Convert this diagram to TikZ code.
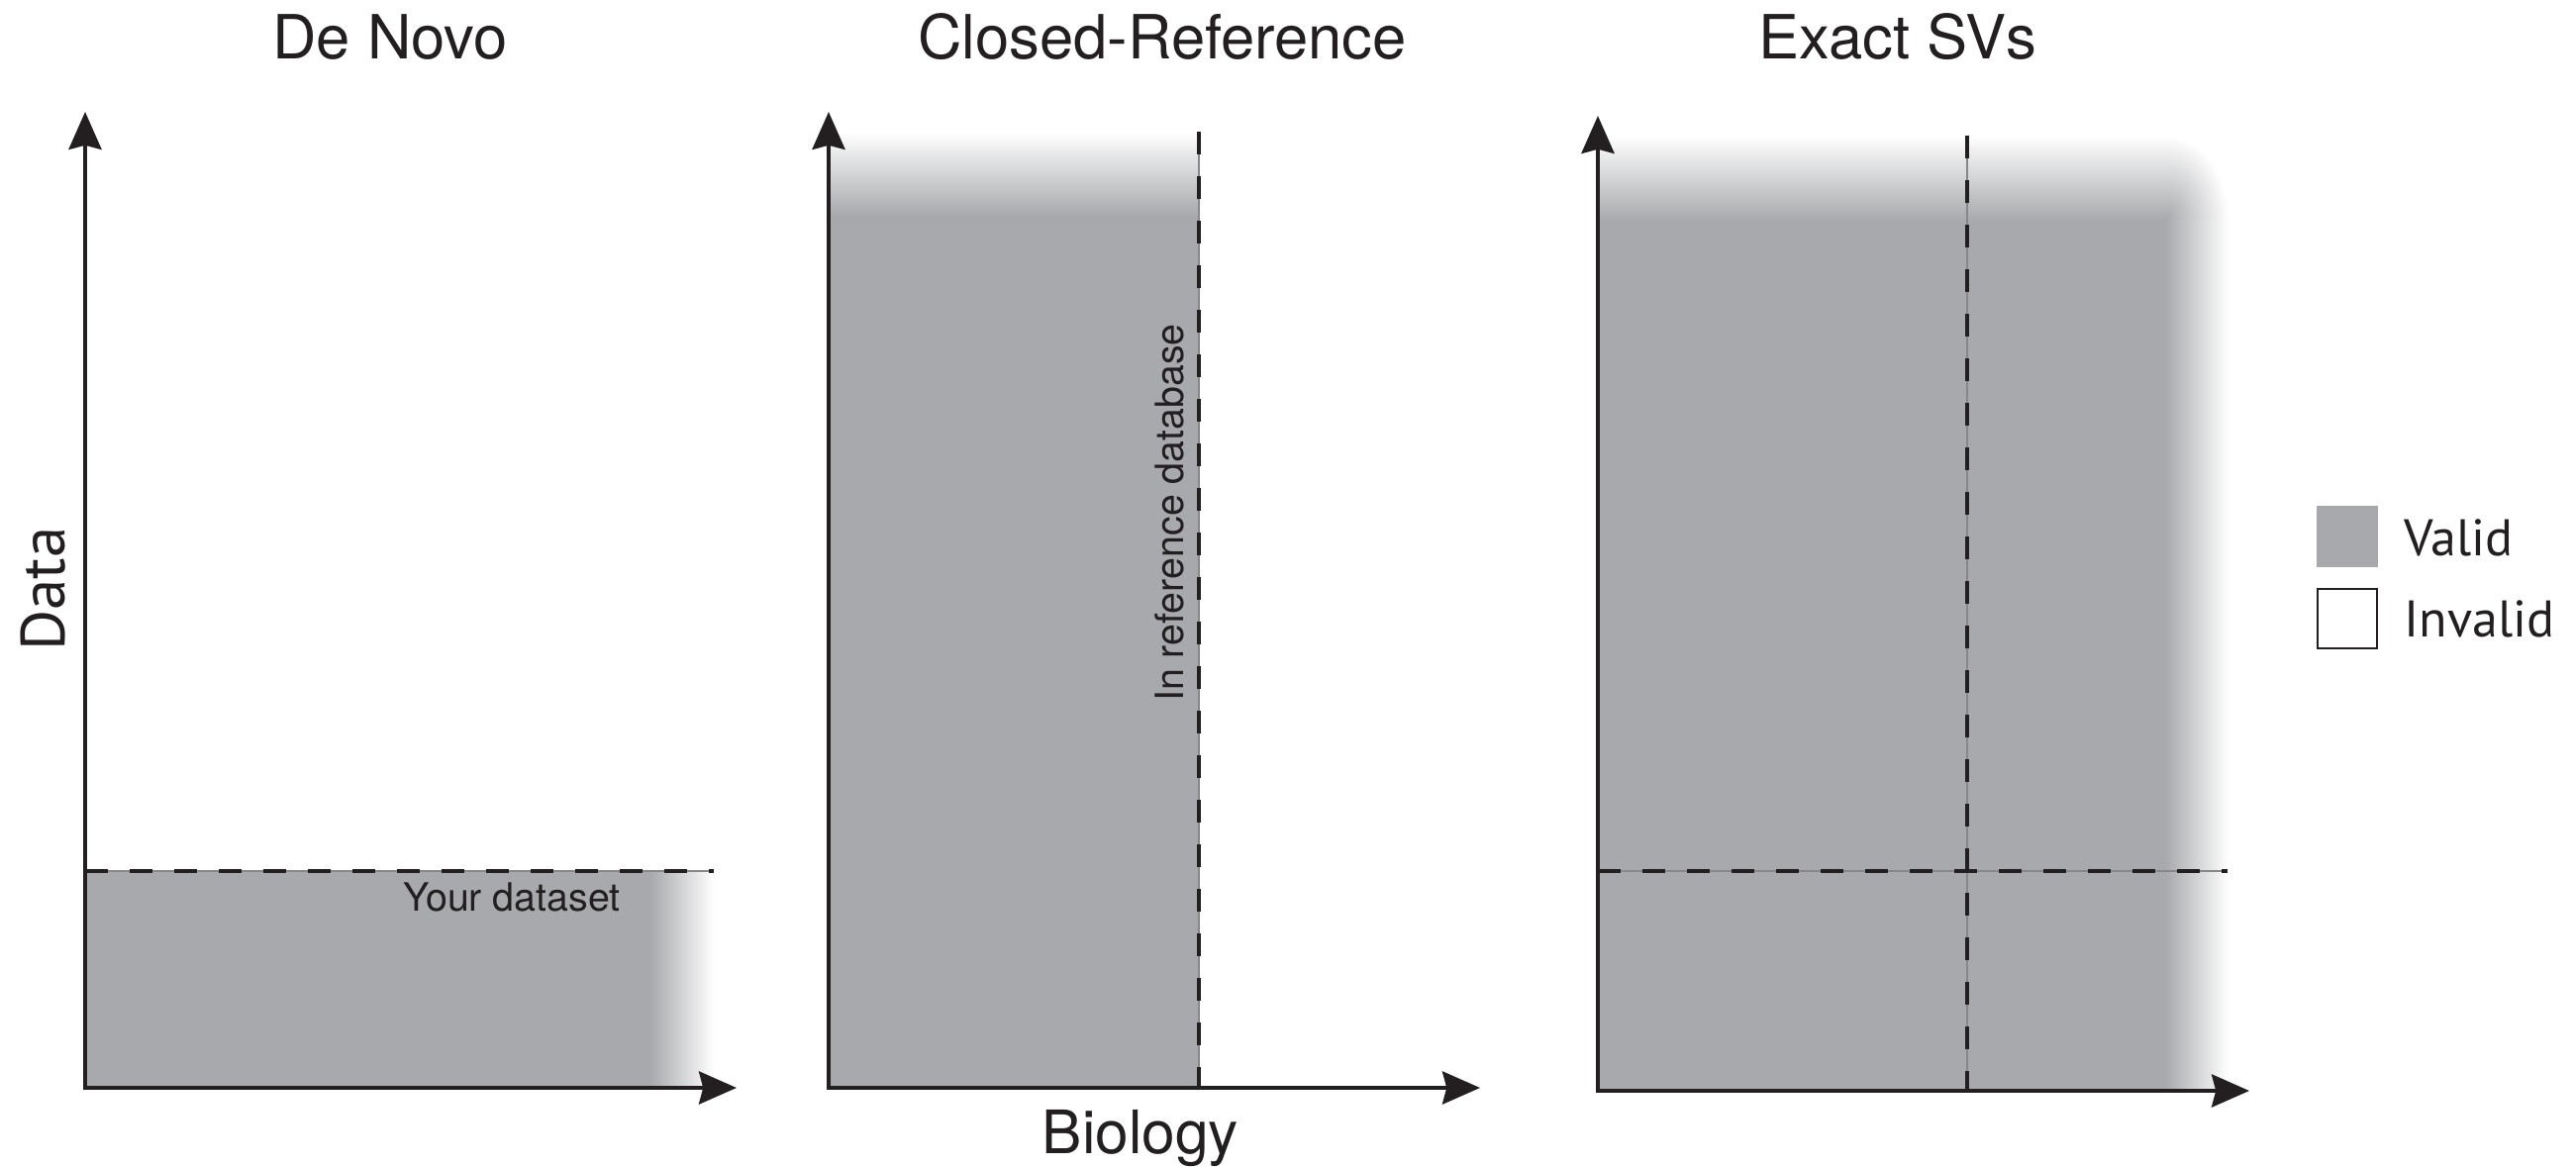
\documentclass[tikz,border=0pt]{standalone}
\usepackage{fontspec}
\setmainfont{TeX Gyre Heros}
\newfontfamily\legfont{PT Sans}
\usetikzlibrary{arrows.meta}
\definecolor{vgray}{RGB}{167,169,172}
\definecolor{ink}{RGB}{35,31,32}
\definecolor{hair}{RGB}{135,136,140}
\begin{document}
\begin{tikzpicture}[x=0.01cm,y=-0.01cm,
  axisline/.style={draw=ink, line width=1.15pt, line join=miter,
    {Stealth[length=10.8pt,width=9.4pt,inset=1.2pt]}-{Stealth[length=10.8pt,width=9.4pt,inset=1.2pt]}},
  dashline/.style={draw=ink, line width=1.4pt, dash pattern=on 6.5pt off 6.3pt},
  hairline/.style={draw=hair, line width=0.3pt},
  titletext/.style={font=\fontsize{17.5}{20}\selectfont, text=ink, anchor=base, inner sep=0pt},
  smalltext/.style={font=\fontsize{11.2}{13}\selectfont, text=ink, anchor=base, inner sep=0pt},
  legtext/.style={font=\legfont\fontsize{14.8}{17}\selectfont, text=ink, anchor=base west, inner sep=0pt},
  legbox/.style={minimum size=0.62cm, inner sep=0pt, outer sep=0pt},
]
\useasboundingbox[fill=white] (0,0) rectangle (2602,1179);

% ---------- Panel 1: De Novo ----------
\fill[vgray] (86,880) rectangle (658,1099);
\shade[left color=vgray, right color=white] (657,880) rectangle (721,1099);
\coordinate (p1o) at (86,1099);
\coordinate (p1y) at (86,113);
\coordinate (p1x) at (744,1099);
\coordinate (d1a) at (86,880);
\coordinate (d1b) at (721,880);
\draw[hairline] (d1a) -- (d1b);
\draw[dashline] (d1a) -- (d1b);
\draw[axisline] (p1y) -- (p1o) -- (p1x);
\node[titletext] (t1) at (394,60) {De Novo};
\node[smalltext] (yd) at (517,920) {Your dataset};
\node[font=\legfont\fontsize{17.9}{20}\selectfont, text=ink, rotate=90, anchor=base, inner sep=0pt] (ylab) at (65,595) {Data};

% ---------- Panel 2: Closed-Reference ----------
\fill[vgray] (837,217) rectangle (1211,1099);
\shade[top color=white, bottom color=vgray] (837,133) rectangle (1211,218);
\coordinate (p2o) at (837,1099);
\coordinate (p2y) at (837,113);
\coordinate (p2x) at (1495,1099);
\coordinate (d2a) at (1211,133);
\coordinate (d2b) at (1211,1099);
\draw[hairline] (d2a) -- (d2b);
\draw[dashline] (d2a) -- (d2b);
\draw[axisline] (p2y) -- (p2o) -- (p2x);
\node[titletext] (t2) at (1174,60) {Closed-Reference};
\node[smalltext, rotate=90] (ref) at (1195,518) {In reference database};
\node[font=\fontsize{17.2}{20}\selectfont, text=ink, anchor=base, inner sep=0pt] (xlab) at (1152,1165) {Biology};

% ---------- Panel 3: Exact SVs ----------
\fill[vgray] (1614,222) rectangle (2188,1102);
\shade[top color=white, bottom color=vgray] (1614,137) rectangle (2188,223);
\shade[left color=vgray, right color=white] (2187,222) rectangle (2251,1102);
\begin{scope}
  \clip (2187,137) rectangle (2251,223);
  \shade[inner color=vgray, outer color=white] (2188,222) ellipse [x radius=63, y radius=85];
\end{scope}
\coordinate (p3o) at (1614,1102);
\coordinate (p3y) at (1614,117);
\coordinate (p3x) at (2272,1102);
\coordinate (d3a) at (1987,137);
\coordinate (d3b) at (1987,1102);
\coordinate (d3c) at (1614,880);
\coordinate (d3d) at (2250,880);
\draw[hairline] (d3a) -- (d3b);
\draw[hairline] (d3c) -- (d3d);
\draw[dashline] (d3a) -- (d3b);
\draw[dashline] (d3c) -- (d3d);
\draw[axisline] (p3y) -- (p3o) -- (p3x);
\node[titletext] (t3) at (1917,60) {Exact SVs};

% ---------- Legend ----------
\node[legbox, fill=vgray] (kvalid) at (2371,542) {};
\node[legbox, draw=ink, line width=0.75pt, fill=white, minimum size=0.6cm] (kinvalid) at (2371,625) {};
\node[legtext] (lvalid) at (2428,561) {Valid};
\node[legtext] (linvalid) at (2428,643) {Invalid};
\end{tikzpicture}
\end{document}
